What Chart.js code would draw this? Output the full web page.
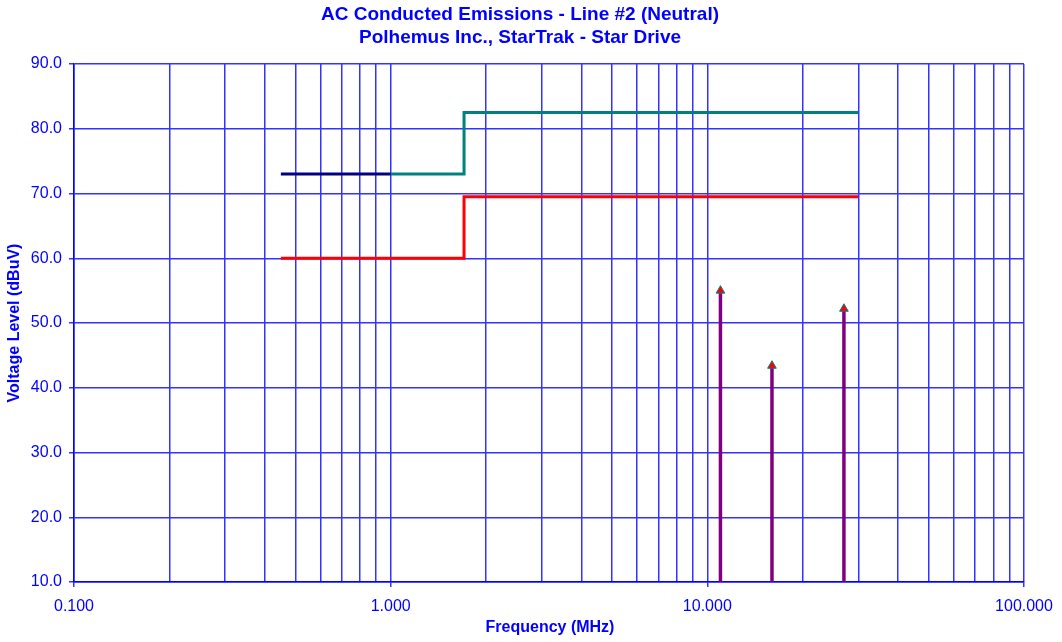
<!DOCTYPE html>
<html>
<head>
<meta charset="utf-8">
<script src="https://cdn.jsdelivr.net/npm/chart.js@4/dist/chart.umd.min.js"></script>
<style>
html,body{margin:0;padding:0;background:#fff;}
#wrap{width:1062px;height:642px;}
</style>
</head>
<body>
<div id="wrap"><canvas id="c" width="1062" height="642"></canvas></div>
<script>
// ---- data ----
const titleLines = ["AC Conducted Emissions - Line #2 (Neutral)", "Polhemus Inc., StarTrak - Star Drive"];
const xAxisTitle = "Frequency (MHz)";
const yAxisTitle = "Voltage Level (dBuV)";

const qpLowFreq = [0.45, 1.0];
const qpLowLevel = [73.0, 73.0];
const qpFreq = [1.0, 1.705, 30.0];
const qpLevel = [73.0, 82.5, 82.5];
const avgFreq = [0.45, 1.705, 30.0];
const avgLevel = [60.0, 69.5, 69.5];
const spikeFreq = [11.0, 16.0, 27.0];
const spikeLevel = [55.0, 43.4, 52.2];

const xDecades = [0.1, 1, 10, 100];
const xDecadeLabels = ["0.100", "1.000", "10.000", "100.000"];
const yMin = 10, yMax = 90, yStep = 10;

const BLUE = '#0000ff';
const GRID = '#3333ff';
const FONT = '"Liberation Sans", Arial, sans-serif';

function pts(xs, ys){ return xs.map((x,i)=>({x:x, y:ys[i]})); }

const datasets = [
  {data: pts(qpLowFreq, qpLowLevel), borderColor:'#000080', borderWidth:3, pointRadius:0, fill:false},
  {data: pts(qpFreq, qpLevel), borderColor:'#008080', borderWidth:3, pointRadius:0, stepped:'before', fill:false},
  {data: pts(avgFreq, avgLevel), borderColor:'#ff0000', borderWidth:3, pointRadius:0, stepped:'before', fill:false}
];
spikeFreq.forEach((f,i)=>{
  datasets.push({
    data: [{x:f, y:yMin}, {x:f, y:spikeLevel[i]}],
    borderColor:'#800080', borderWidth:3.5,
    pointStyle:'triangle', pointRadius:[0,5],
    pointBackgroundColor:'#ff0000', pointBorderColor:'#008080', pointBorderWidth:1,
    fill:false
  });
});

function isDecade(v){ return xDecades.some(d => Math.abs(v-d)/d < 1e-6); }

const textPlugin = {
  id:'texts',
  afterDraw(chart){
    const ctx = chart.ctx;
    ctx.save();
    ctx.fillStyle = BLUE;
    ctx.textAlign = 'center';
    ctx.textBaseline = 'middle';
    ctx.font = 'bold 19px ' + FONT;
    ctx.fillText(titleLines[0], 520, 15);
    ctx.fillText(titleLines[1], 520, 38);
    ctx.font = 'bold 16px ' + FONT;
    ctx.fillText(xAxisTitle, 550, 628);
    ctx.translate(15, 323);
    ctx.rotate(-Math.PI/2);
    ctx.fillText(yAxisTitle, 0, 0);
    ctx.restore();
  }
};

new Chart(document.getElementById('c'), {
  type:'line',
  data:{datasets},
  plugins:[textPlugin],
  options:{
    responsive:false,
    animation:false,
    layout:{padding:{left:0, right:38, top:64, bottom:0}},
    plugins:{legend:{display:false}, title:{display:false}, tooltip:{enabled:false}},
    scales:{
      x:{
        type:'logarithmic', min:0.1, max:100,
        afterBuildTicks(scale){
          const t=[];
          for(let d=0; d<3; d++){ for(let k=1;k<=9;k++){ t.push({value: xDecades[d]*k}); } }
          t.push({value:100});
          scale.ticks = t;
        },
        afterFit(scale){ scale.height = 60; scale.paddingLeft = 0; scale.paddingRight = 0; },
        border:{color:BLUE, width:1.5},
        grid:{color:GRID, lineWidth:1.5, tickLength:5,
          tickColor:(c)=> (c.tick && isDecade(c.tick.value)) ? GRID : 'rgba(0,0,0,0)'},
        ticks:{color:BLUE, font:{family:FONT, size:16}, padding:10, maxRotation:0, autoSkip:false,
          callback(v){ const i = xDecades.findIndex(d=>Math.abs(v-d)/d<1e-6); return i>=0 ? xDecadeLabels[i] : ''; }}
      },
      y:{
        type:'linear', min:yMin, max:yMax,
        afterFit(scale){ scale.width = 74; scale.paddingTop = 0; scale.paddingBottom = 0; },
        border:{color:BLUE, width:1.5},
        grid:{color:GRID, lineWidth:1.5, tickLength:5, tickColor:GRID},
        ticks:{stepSize:yStep, color:BLUE, font:{family:FONT, size:16}, padding:7,
          callback(v){ return Number(v).toFixed(1); }}
      }
    }
  }
});
</script>
</body>
</html>
